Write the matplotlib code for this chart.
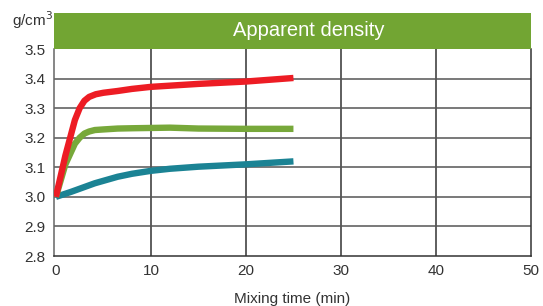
import matplotlib
matplotlib.use("Agg")
import matplotlib.pyplot as plt
from matplotlib.patches import Rectangle

plt.rcParams['font.family'] = ['Liberation Sans', 'DejaVu Sans']

t_red = [0, 1, 2, 2.5, 3, 3.5, 4.2, 5, 6.5, 8, 10, 15, 20, 25]
v_red = [3.0, 3.14, 3.26, 3.30, 3.325, 3.338, 3.347, 3.352, 3.358, 3.365, 3.372, 3.382, 3.39, 3.402]

t_green = [0, 1, 2, 2.5, 3, 3.5, 4.1, 5, 6.5, 8, 10, 12, 15, 20, 25]
v_green = [3.0, 3.11, 3.18, 3.2, 3.214, 3.221, 3.226, 3.228, 3.231, 3.232, 3.233, 3.234, 3.231, 3.23, 3.23]

t_teal = [0, 1.6, 4.1, 6.5, 8, 10, 12, 15, 20, 25]
v_teal = [3.0, 3.017, 3.046, 3.068, 3.078, 3.088, 3.095, 3.102, 3.11, 3.12]

x_ticks = [0, 10, 20, 30, 40, 50]
y_ticks = [2.8, 2.9, 3.0, 3.1, 3.2, 3.3, 3.4, 3.5]

title = "Apparent density"
xlabel = "Mixing time (min)"
unit = "g/cm$^3$"

fig = plt.figure(figsize=(5.43, 3.06), dpi=100)
ax = fig.add_axes([54/543, 50/306, 477/543, 207/306])

ax.set_xlim(-0.2, 50)
ax.set_ylim(2.8, 3.5)
ax.set_xticks(x_ticks)
ax.set_yticks(y_ticks)
ax.set_yticklabels([f"{v:.1f}" for v in y_ticks])

grid_c = '#333333'
for x in x_ticks[1:-1]:
    ax.axvline(x, color=grid_c, lw=1.1, zorder=1)
for y in y_ticks[1:-1]:
    ax.axhline(y, color='#555555', lw=1.1, zorder=1)

for s in ['left', 'bottom', 'right']:
    ax.spines[s].set_color(grid_c)
    ax.spines[s].set_linewidth(1.1)
ax.spines['left'].set_color('#666666')
ax.spines['top'].set_visible(False)

ax.tick_params(length=0, pad=6, labelsize=11, colors='#333333')

lw = 4.6
kw = dict(lw=lw, solid_capstyle='butt', solid_joinstyle='round')
ax.plot(t_teal, v_teal, color='#1B8394', zorder=3, **kw)
ax.plot(t_green, v_green, color='#77A83A', zorder=4, **kw)
ax.plot(t_red, v_red, color='#ED1C24', zorder=5, **kw)

band_h = 36/207
ax.add_patch(Rectangle((0, 1), 1, band_h, transform=ax.transAxes,
                       facecolor='#72A533', edgecolor='none', clip_on=False, zorder=6))
ax.text(0.535, 1 + band_h/2, title, transform=ax.transAxes, color='white',
        fontsize=14.5, ha='center', va='center', zorder=7)

ax.set_xlabel(xlabel, fontsize=11, color='#333333', labelpad=10)
fig.text(12/543, 1 - 20/306, unit, fontsize=11, color='#333333', ha='left', va='center')

fig.savefig("out.png", dpi=100)
